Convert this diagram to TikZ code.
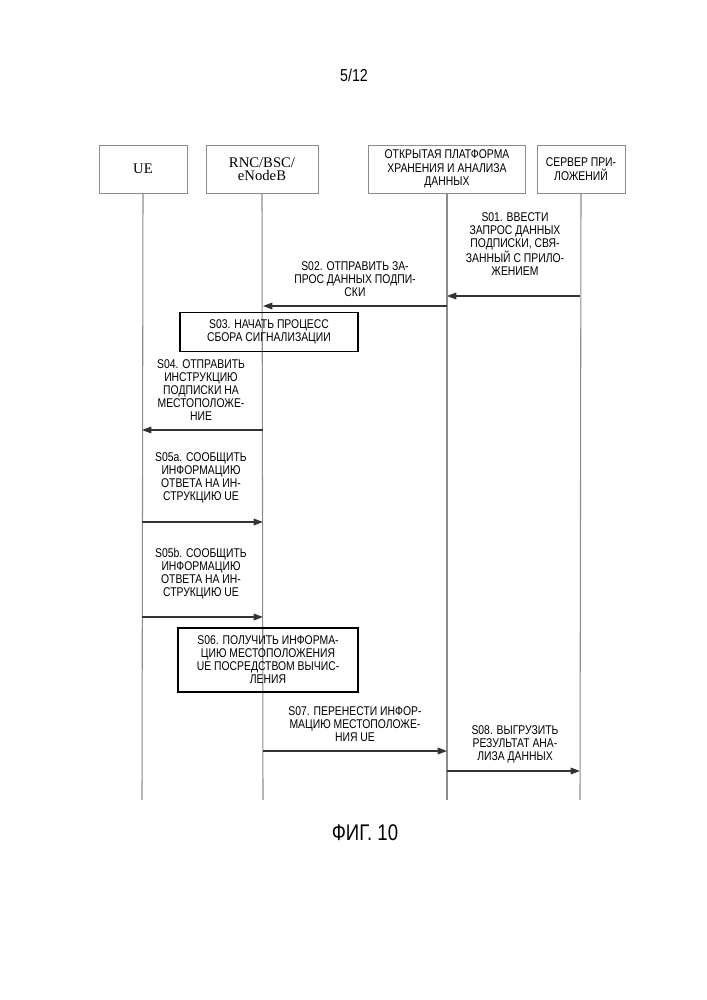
\documentclass[tikz,border=0pt]{standalone}
\usepackage{fontspec}
\setmainfont{Liberation Sans}[FakeStretch=0.82]
\newfontfamily\serifhead{Liberation Serif}
\usetikzlibrary{arrows.meta}
\tikzset{
  head/.style={draw=black!45, minimum height=48*0.75pt, align=center, inner sep=1pt, font=\fontsize{9.5}{10}\selectfont},
  life/.style={black!45, thick},
  msg/.style={black!80, thick, -{Triangle[length=7pt,width=5pt]}},
  lbl/.style={align=center, font=\fontsize{9.5}{9.8}\selectfont, inner sep=0pt},
  stepbox/.style={draw, thick, align=center, font=\fontsize{9.5}{9.8}\selectfont, inner sep=1pt}
}
\begin{document}
\begin{tikzpicture}[x=0.75pt, y=-0.75pt]
\useasboundingbox (0,0) rectangle (707,1000);
\node at (354,75) {\fontsize{13}{14}\selectfont 5/12};
% participants
\node[head, minimum width=88*0.75pt] (ue) at (143,169) {\serifhead\fontsize{11}{12}\selectfont UE};
\node[head, minimum width=112*0.75pt] (rnc) at (262,169) {\serifhead\fontsize{11}{12}\selectfont RNC/BSC/\\ \serifhead\fontsize{11}{12}\selectfont eNodeB};
\node[head, minimum width=157*0.75pt] (plat) at (447,169) {ОТКРЫТАЯ ПЛАТФОРМА\\ХРАНЕНИЯ И АНАЛИЗА\\ДАННЫХ};
\node[head, minimum width=88*0.75pt] (srv) at (581,169) {СЕРВЕР ПРИ-\\ЛОЖЕНИЙ};
% lifelines
\coordinate (ueE) at (142,800);
\coordinate (rncE) at (263,800);
\coordinate (platE) at (447,800);
\coordinate (srvE) at (580,800);
\draw[life] (ue.south) -- (ueE);
\draw[life] (rnc.south) -- (rncE);
\draw[life] (plat.south) -- (platE);
\draw[life] (srv.south) -- (srvE);
% messages
\coordinate (s1a) at (580,296); \coordinate (s1b) at (447,296);
\draw[msg] (s1a) -- (s1b);
\node[lbl] (t1) at (515,244) {S01. ВВЕСТИ\\ЗАПРОС ДАННЫХ\\ПОДПИСКИ, СВЯ-\\ЗАННЫЙ С ПРИЛО-\\ЖЕНИЕМ};
\coordinate (s2a) at (447,306); \coordinate (s2b) at (263,306);
\draw[msg] (s2a) -- (s2b);
\node[lbl] (t2) at (355,279) {S02. ОТПРАВИТЬ ЗА-\\ПРОС ДАННЫХ ПОДПИ-\\СКИ};
\node[stepbox, minimum width=178*0.75pt, minimum height=39*0.75pt] (s3) at (269,332) {S03. НАЧАТЬ ПРОЦЕСС\\СБОРА СИГНАЛИЗАЦИИ};
\coordinate (s4a) at (263,430); \coordinate (s4b) at (142,430);
\draw[msg] (s4a) -- (s4b);
\node[lbl] (t4) at (201,390) {S04. ОТПРАВИТЬ\\ИНСТРУКЦИЮ\\ПОДПИСКИ НА\\МЕСТОПОЛОЖЕ-\\НИЕ};
\coordinate (s5a) at (142,522); \coordinate (s5b) at (263,522);
\draw[msg] (s5a) -- (s5b);
\node[lbl] (t5) at (201,478) {S05a. СООБЩИТЬ\\ИНФОРМАЦИЮ\\ОТВЕТА НА ИН-\\СТРУКЦИЮ UE};
\coordinate (s6a) at (142,617); \coordinate (s6b) at (263,617);
\draw[msg] (s6a) -- (s6b);
\node[lbl] (t6) at (201,574) {S05b. СООБЩИТЬ\\ИНФОРМАЦИЮ\\ОТВЕТА НА ИН-\\СТРУКЦИЮ UE};
\node[stepbox, minimum width=180*0.75pt, minimum height=64*0.75pt] (s7) at (268,660) {S06. ПОЛУЧИТЬ ИНФОРМА-\\ЦИЮ МЕСТОПОЛОЖЕНИЯ\\UE ПОСРЕДСТВОМ ВЫЧИС-\\ЛЕНИЯ};
\coordinate (s8a) at (263,751); \coordinate (s8b) at (447,751);
\draw[msg] (s8a) -- (s8b);
\node[lbl] (t8) at (355,724) {S07. ПЕРЕНЕСТИ ИНФОР-\\МАЦИЮ МЕСТОПОЛОЖЕ-\\НИЯ UE};
\coordinate (s9a) at (447,771); \coordinate (s9b) at (580,771);
\draw[msg] (s9a) -- (s9b);
\node[lbl] (t9) at (515,744) {S08. ВЫГРУЗИТЬ\\РЕЗУЛЬТАТ АНА-\\ЛИЗА ДАННЫХ};
\node (fig) at (365,833) {\fontsize{17}{18}\selectfont ФИГ. 10};
\end{tikzpicture}
\end{document}
